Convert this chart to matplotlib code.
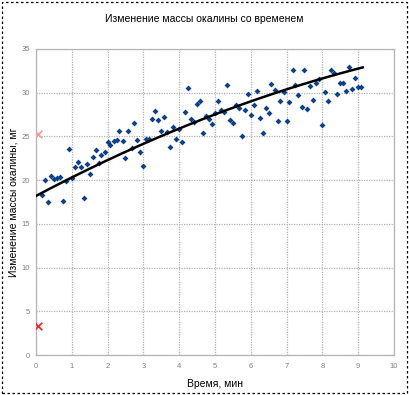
import numpy as np
import matplotlib.pyplot as plt
from matplotlib.patches import Rectangle

plt.rcParams['font.family'] = ['Liberation Sans', 'DejaVu Sans']

# время, мин
time_min = [0.17, 0.25, 0.33, 0.42, 0.50, 0.58, 0.67, 0.75, 0.83, 0.92,
            1.00, 1.08, 1.17, 1.25, 1.33, 1.42, 1.50, 1.58, 1.67, 1.75,
            1.83, 1.92, 2.00, 2.08, 2.17, 2.25, 2.33, 2.42, 2.50, 2.58,
            2.67, 2.75, 2.83, 2.92, 3.00, 3.08, 3.17, 3.25, 3.33, 3.42,
            3.50, 3.58, 3.67, 3.75, 3.83, 3.92, 4.00, 4.08, 4.17, 4.25,
            4.33, 4.42, 4.50, 4.58, 4.67, 4.75, 4.83, 4.92, 5.00, 5.08,
            5.17, 5.25, 5.33, 5.42, 5.50, 5.58, 5.67, 5.75, 5.83, 5.92,
            6.00, 6.08, 6.17, 6.25, 6.33, 6.42, 6.50, 6.58, 6.67, 6.75,
            6.83, 6.92, 7.00, 7.08, 7.17, 7.25, 7.33, 7.42, 7.50, 7.58,
            7.67, 7.75, 7.83, 7.92, 8.00, 8.08, 8.17, 8.25, 8.33, 8.42,
            8.50, 8.58, 8.67, 8.75, 8.83, 8.92, 9.00, 9.08]
# изменение массы, мг
mass_mg = [18.3, 20.0, 17.45, 20.5, 20.1, 20.3, 20.35, 17.6, 19.9, 23.6,
           20.3, 21.5, 22.1, 21.45, 18.0, 21.9, 20.7, 22.7, 23.4, 21.95,
           22.9, 23.2, 24.4, 24.0, 24.5, 24.55, 25.65, 24.5, 22.5, 25.65,
           23.7, 26.5, 24.55, 23.2, 21.6, 24.7, 24.7, 26.95, 27.9, 26.85,
           25.6, 27.2, 25.5, 23.75, 26.05, 24.7, 25.9, 24.35, 27.75, 30.5,
           27.0, 26.7, 28.7, 29.0, 25.4, 27.3, 27.0, 26.4, 27.65, 29.1,
           28.0, 27.85, 30.9, 26.85, 26.5, 28.6, 28.2, 25.05, 28.0, 29.9,
           27.5, 28.55, 30.25, 27.15, 25.4, 28.25, 27.65, 31.0, 30.3, 26.8,
           29.1, 30.1, 26.8, 28.9, 32.6, 30.9, 29.75, 28.4, 32.6, 28.1,
           30.8, 29.2, 31.1, 31.55, 26.35, 30.1, 29.05, 32.65, 32.25, 29.9,
           31.1, 31.1, 30.2, 32.9, 30.45, 31.7, 30.65, 30.65]

# линия тренда: полином 2-й степени (коэффициенты)
trend_coef = [-0.0614, 2.17, 18.2]
trend_range = [0.0, 9.13]

# отдельные точки (крестики)
cross1_x, cross1_y = [0.05], [25.3]
cross2_x, cross2_y = [0.05], [3.3]

fig = plt.figure(figsize=(4.09, 3.95), dpi=100)
ax = fig.add_axes([0.088, 0.101, 0.875, 0.775])

grid_col = '#b4b4b4'
ax.grid(True, color=grid_col, linestyle=(0, (1, 1)), linewidth=0.9)
ax.set_axisbelow(True)
for s in ax.spines.values():
    s.set_color(grid_col)
    s.set_linestyle((0, (1, 1)))
    s.set_linewidth(0.9)

ax.scatter(time_min, mass_mg, marker='D', s=9, color='#0b3f8c', zorder=3,
           linewidths=0)

xt = np.linspace(trend_range[0], trend_range[1], 200)
ax.plot(xt, np.polyval(trend_coef, xt), color='black', linewidth=1.8, zorder=4)

ax.scatter(cross1_x, cross1_y, marker='x', s=30, color='#ff9a9a', linewidths=1.2, zorder=5)
ax.scatter(cross2_x, cross2_y, marker='x', s=30, color='#ff2020', linewidths=1.2, zorder=5)

ax.set_xlim(0, 10)
ax.set_ylim(0, 35)
ax.set_xticks(range(0, 11))
ax.set_yticks(range(0, 36, 5))
ax.tick_params(length=0, labelsize=5.5, labelcolor='#808080')
ax.tick_params(axis='x', pad=6)
ax.tick_params(axis='y', pad=4.5)

ax.set_xlabel('Время, мин', fontsize=7.5, labelpad=6)
ax.set_ylabel('Изменение массы окалины, мг', fontsize=7.5, labelpad=2)
fig.text(0.5, 0.953, 'Изменение массы окалины со временем', ha='center',
         va='center', fontsize=7.5)

fig.patches.append(Rectangle((0.004, 0.004), 0.99, 0.99, transform=fig.transFigure,
                             fill=False, edgecolor='black', linestyle=(0, (2, 2)),
                             linewidth=0.9))

fig.savefig('out.png', dpi=100)
